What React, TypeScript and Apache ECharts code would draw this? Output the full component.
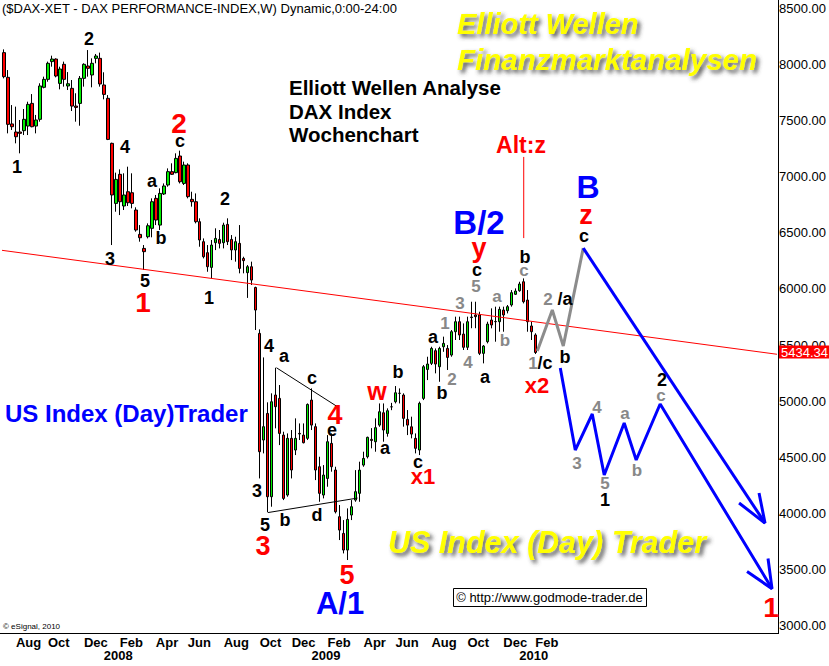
import React, { useEffect, useRef } from "react";
import * as echarts from "echarts";

const START_DATE = "2007-07-16";
const WEEK_COUNT = 194;
const LAST_LABEL_DATE = "2010-02-28";
const MONTHS = ["Jan", "Feb", "Mar", "Apr", "May", "Jun", "Jul", "Aug", "Sep", "Oct", "Nov", "Dec"];

const opens = [8105,7885,7470,7398,7398,7410,7451,7653,7451,7511,7796,7867,8025,8048,7831,8001,7808,7787,7629,7653,7876,7986,7906,8054,8054,7817,7698,7297,6762,7021,6739,6866,6857,6703,6486,6361,6465,6540,6807,6569,6846,6926,7045,7036,7184,6940,7104,6798,6777,6599,6421,6323,6192,6412,6441,6412,6575,6441,6347,6406,6272,6145,6198,6013,5604,4654,4891,4149,5055,5025,4698,4164,4669,4565,4713,4698,4669,5010,4773,4416,4164,4312,4624,4387,3971,3822,3674,3986,4119,4179,4431,4505,4660,4639,4787,4897,4713,4950,4995,5070,5055,4838,4772,4669,4565,5025,5283,5337,5450,5307,5485,5470,5411,5619,5708,5598,5480,5750,5768,5768,5426,5530,5723,5708,5708,5812,5806,5857,5952,5984,6064,5901,5670,5590];
const highs = [8134,7950,7638,7624,7505,7603,7668,7736,7550,7832,7891,8025,8078,8054,7980,8025,7932,7861,7743,7897,8010,8128,8054,8093,8105,7930,7727,7303,7036,7065,7030,7089,7030,6727,6569,6391,6584,6807,6837,6896,6940,7074,7119,7208,7232,7134,7119,6866,6851,6629,6450,6391,6436,6540,6525,6590,6629,6480,6465,6569,6287,6213,6243,6020,5640,5390,4990,5070,5298,5144,4728,4713,4743,4847,4802,4802,4980,5114,4802,4505,4431,4698,4713,4416,4075,3941,4045,4119,4386,4461,4550,4684,4760,4847,4980,4980,4936,4985,5135,5114,5070,4921,4862,4713,4996,5322,5396,5485,5470,5485,5575,5500,5634,5753,5753,5693,5753,5886,5886,5797,5500,5708,5827,5842,5842,5842,5857,5990,6005,6064,6094,5990,5708,5605];
const lows = [7876,7386,7416,7297,7208,7371,7371,7440,7386,7490,7787,7846,7980,7885,7778,7802,7772,7585,7490,7454,7802,7891,7796,8010,7802,7689,7326,6391,6688,6658,6703,6739,6718,6510,6421,6169,6450,6460,6569,6525,6837,6911,7015,7030,6940,6926,6807,6733,6584,6376,6272,6153,6094,6346,6361,6361,6391,6257,6243,6139,6139,5920,6035,5634,4312,4535,4010,4060,4758,4609,4119,4149,4312,4520,4654,4624,4654,4743,4297,4104,4134,4238,4372,4000,3763,3644,3585,3941,4104,4104,4416,4490,4580,4550,4772,4639,4684,4920,4980,4980,4773,4698,4669,4535,4520,5010,5188,5322,5248,5173,5440,5278,5396,5545,5545,5456,5456,5650,5650,5411,5337,5515,5649,5530,5619,5619,5782,5842,5946,5975,5871,5619,5545,5420];
const closes = [7891,7466,7445,7356,7386,7511,7644,7445,7505,7808,7867,8010,8048,7897,7959,7867,7828,7629,7617,7876,8001,7965,8010,8075,7826,7733,7332,6837,6976,6777,6837,6768,6762,6525,6456,6332,6563,6777,6614,6851,6917,7045,7021,7163,6955,7104,6822,6777,6599,6436,6287,6198,6391,6450,6406,6569,6421,6347,6421,6183,6252,6198,6079,5812,4550,4773,4149,4995,4951,4713,4134,4669,4387,4669,4708,4630,4971,4787,4387,4179,4342,4639,4416,4015,3852,3674,3947,4060,4194,4386,4490,4678,4650,4764,4906,4743,4915,4950,5075,5070,4847,4787,4707,4580,4981,5307,5331,5470,5331,5470,5515,5390,5619,5708,5590,5480,5708,5745,5753,5426,5491,5687,5679,5710,5818,5768,5842,5967,5981,6044,5886,5708,5619,5434];

const yTicks = { min: 3000, max: 8500, step: 500 };

// annotation lines in [week index, index points]
const trendLine = [[-0.5, 6344], [193.5, 5418]];
const altZLine = [[130.1, 7176], [130.1, 6453]];
const triangleUpper = [[68.2, 5298], [83.2, 4957]];
const triangleLower = [[66.1, 4008], [88.5, 4137]];
const grayPath = [[133.5, 5447], [137.25, 5812], [140, 5491], [145, 6364]];
const blueUpper = [[145, 6364], [190.5, 3914]];
const blueUpperHead = [[184, 4093], [190.5, 3914], [189, 4182]];
const blueLower = [[139.25, 5296], [143, 4565], [147.25, 4886], [150.25, 4343], [155.25, 4806], [158.25, 4476], [164.25, 4975], [192.25, 3330]];
const blueLowerHead = [[186, 3482], [192.25, 3330], [191.25, 3598]];

const lastPrice = "5434.34";

// wave labels: [x px, y px, text]
const blackLabels: [number, number, string][] = [
  [89, 39, "2"], [17, 167, "1"], [125, 147, "4"], [180, 141, "c"], [152, 181, "a"], [161, 238, "b"],
  [110, 259, "3"], [145, 281, "5"], [225, 199, "2"], [209, 298, "1"],
  [269, 346, "4"], [284, 356, "a"], [312, 378, "c"], [332, 430, "e"], [257, 491, "3"], [265, 525, "5"],
  [285, 520, "b"], [317, 515, "d"], [398, 372, "b"], [385, 448, "a"], [418, 462, "c"], [433, 337, "a"],
  [442, 393, "b"], [485, 377, "a"], [477, 270, "c"], [525, 257, "b"], [584, 236, "c"], [565, 357, "b"],
  [605, 500, "1"], [662, 380, "2"], [565, 299, "/a"], [545, 363, "/c"],
];
const grayLabels: [number, number, string][] = [
  [445, 323, "1"], [452, 379, "2"], [460, 303, "3"], [468, 362, "4"], [476, 286, "5"], [497, 296, "a"],
  [505, 340, "b"], [524, 270, "c"], [548, 299, "2"], [533, 363, "1"], [577, 463, "3"], [597, 407, "4"],
  [605, 483, "5"], [625, 413, "a"], [637, 470, "b"], [661, 395, "c"],
];
const redLabels: [number, number, string, number][] = [
  [179, 123, "2", 28], [143, 302, "1", 28], [335, 415, "4", 27], [263, 546, "3", 27], [347, 575, "5", 27],
  [377, 391, "w", 25], [423, 476, "x1", 22], [479, 248, "y", 27], [537, 385, "x2", 22], [586, 215, "z", 27],
  [521, 145, "Alt:z", 23], [771, 607, "1", 28],
];
const blueLabels: [number, number, string, number][] = [
  [479, 222, "B/2", 33], [588, 187, "B", 32], [340, 603, "A/1", 31],
];

const FONT = 'Arial, "Liberation Sans", sans-serif';

function weekDates(): string[] {
  const out: string[] = [];
  const t0 = Date.parse(START_DATE + "T00:00:00Z");
  for (let i = 0; i < WEEK_COUNT; i++) {
    out.push(new Date(t0 + i * 7 * 86400000).toISOString().slice(0, 10));
  }
  return out;
}

export default function App() {
  const ref = useRef<HTMLDivElement>(null);
  useEffect(() => {
    if (!ref.current) return;
    const chart = echarts.init(ref.current, undefined, { renderer: "svg" });
    const dates = weekDates();
    const candles = opens.map((o, i) => [o, closes[i], lows[i], highs[i]]);

    const firstWeekOf = (d: string) => d <= LAST_LABEL_DATE && parseInt(d.slice(8, 10), 10) <= 7;
    const isMonthWeek = (d: string) => firstWeekOf(d) && parseInt(d.slice(5, 7), 10) % 2 === 0;
    const isYearWeek = (d: string) => firstWeekOf(d) && parseInt(d.slice(5, 7), 10) === 1;

    const txt = (x: number, y: number, text: string, fill: string, size: number, extra: any = {}) => ({
      type: "text",
      x, y, z: 100,
      style: {
        text, fill, align: "center", verticalAlign: "middle",
        fontSize: size, fontWeight: "bold", fontFamily: FONT, ...extra,
      },
    });

    const lineSeries = (data: number[][], color: string, width: number) => ({
      type: "line", xAxisIndex: 1, yAxisIndex: 0, data, symbol: "none", silent: true,
      lineStyle: { color, width }, z: 5, animation: false,
    });

    const shadow = { textShadowColor: "rgba(60,60,60,0.85)", textShadowBlur: 4, textShadowOffsetX: 3, textShadowOffsetY: 3 };
    const headText = (y: number, text: string) => ({
      type: "text", x: 289, y,
      style: { text, fill: "#000", fontSize: 20.5, fontWeight: "bold", fontFamily: FONT, verticalAlign: "middle", align: "left" },
    });

    const graphics: any[] = [
      { type: "line", shape: { x1: 778.5, y1: 0, x2: 778.5, y2: 633.5 }, style: { stroke: "#000", lineWidth: 1 } },
      { type: "line", shape: { x1: 0, y1: 633.5, x2: 779, y2: 633.5 }, style: { stroke: "#000", lineWidth: 1 } },
      { type: "text", x: 2, y: 8, style: { text: "($DAX-XET - DAX PERFORMANCE-INDEX,W) Dynamic,0:00-24:00", fill: "#000", fontSize: 13, fontFamily: FONT, verticalAlign: "middle", align: "left" } },
      { type: "text", x: 3, y: 626, style: { text: "© eSignal, 2010", fill: "#000", fontSize: 8, fontFamily: FONT, verticalAlign: "middle", align: "left" } },
      headText(87, "Elliott Wellen Analyse"),
      headText(111, "DAX Index"),
      headText(134, "Wochenchart"),
      { type: "text", x: 457, y: 24, style: { text: "Elliott Wellen", fill: "#ffff00", fontSize: 29, fontWeight: "bold", fontStyle: "italic", fontFamily: FONT, verticalAlign: "middle", align: "left", ...shadow } },
      { type: "text", x: 457, y: 59, style: { text: "Finanzmarktanalysen", fill: "#ffff00", fontSize: 29.5, fontWeight: "bold", fontStyle: "italic", fontFamily: FONT, verticalAlign: "middle", align: "left", ...shadow } },
      { type: "text", x: 547, y: 542, style: { text: "US Index (Day) Trader", fill: "#ffff00", fontSize: 30.5, fontWeight: "bold", fontStyle: "italic", fontFamily: FONT, verticalAlign: "middle", align: "center", ...shadow } },
      { type: "text", x: 5, y: 413, style: { text: "US Index (Day)Trader", fill: "#0000ff", fontSize: 24, fontWeight: "bold", fontFamily: FONT, verticalAlign: "middle", align: "left" } },
      { type: "rect", shape: { x: 453.5, y: 588.5, width: 193, height: 18 }, style: { fill: "#fff", stroke: "#000", lineWidth: 1 } },
      { type: "text", x: 549.5, y: 597.5, style: { text: "© http://www.godmode-trader.de", fill: "#000", fontSize: 13, fontFamily: FONT, verticalAlign: "middle", align: "center" } },
      { type: "rect", shape: { x: 779, y: 345.5, width: 50, height: 13 }, style: { fill: "#ff0000" }, z: 50 },
      { type: "text", x: 781, y: 352.5, z: 51, style: { text: lastPrice, fill: "#fff", fontSize: 13, fontFamily: FONT, verticalAlign: "middle", align: "left" } },
    ];
    blackLabels.forEach(([x, y, t]) => graphics.push(txt(x, y, t, "#000", 18)));
    grayLabels.forEach(([x, y, t]) => graphics.push(txt(x, y, t, "#888888", 17)));
    redLabels.forEach(([x, y, t, s]) => graphics.push(txt(x, y, t, "#ff0000", s)));
    blueLabels.forEach(([x, y, t, s]) => graphics.push(txt(x, y, t, "#0000ff", s)));

    const labelBase = {
      showMinLabel: true, showMaxLabel: true, hideOverlap: false,
      align: "left", color: "#000", fontSize: 13, fontWeight: "bold", fontFamily: FONT, lineHeight: 13,
    };

    chart.setOption({
      animation: false,
      backgroundColor: "#fff",
      grid: { left: 2, right: 51, top: 8.3, bottom: 40.3, containLabel: false },
      xAxis: [
        {
          type: "category", data: dates, boundaryGap: true, offset: 7.3, position: "bottom",
          axisLine: { show: false }, axisTick: { show: false }, splitLine: { show: false },
          axisLabel: {
            ...labelBase, margin: 3,
            interval: (_i: number, v: string) => isMonthWeek(v),
            formatter: (v: string) => MONTHS[parseInt(v.slice(5, 7), 10) - 1],
          },
        },
        { type: "value", min: -0.5, max: WEEK_COUNT - 0.5, show: false },
        {
          type: "category", data: dates, boundaryGap: true, offset: 7.3, position: "bottom",
          axisLine: { show: false }, axisTick: { show: false }, splitLine: { show: false },
          axisLabel: {
            ...labelBase, margin: 16,
            interval: (_i: number, v: string) => isYearWeek(v),
            formatter: (v: string) => v.slice(0, 4),
          },
        },
      ],
      yAxis: {
        type: "value", position: "right", min: yTicks.min, max: yTicks.max, interval: yTicks.step,
        axisLine: { show: false }, axisTick: { show: false }, splitLine: { show: false },
        axisLabel: { formatter: (v: number) => v.toFixed(2), color: "#000", fontSize: 13, fontFamily: FONT, margin: 2, showMinLabel: true, showMaxLabel: true },
      },
      series: [
        lineSeries(trendLine, "#ff0000", 1),
        {
          type: "candlestick", xAxisIndex: 0, yAxisIndex: 0, data: candles, barWidth: 3, z: 3,
          itemStyle: { color: "#00ee00", color0: "#ff0000", borderColor: "#000", borderColor0: "#000", borderWidth: 1 },
        },
        lineSeries(altZLine, "#ff0000", 1),
        lineSeries(triangleUpper, "#000", 1),
        lineSeries(triangleLower, "#000", 1),
        lineSeries(grayPath, "#8c8c8c", 3),
        lineSeries(blueUpper, "#0000ff", 3),
        lineSeries(blueUpperHead, "#0000ff", 3),
        lineSeries(blueLower, "#0000ff", 3),
        lineSeries(blueLowerHead, "#0000ff", 3),
      ],
      graphic: graphics,
    });
    return () => chart.dispose();
  }, []);
  return <div ref={ref} style={{ position: "fixed", left: 0, top: 0, width: 829, height: 666, background: "#fff" }} />;
}
